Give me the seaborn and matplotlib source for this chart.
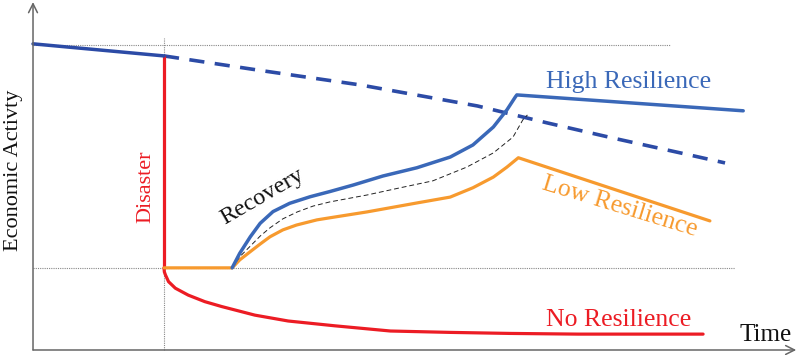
import matplotlib.pyplot as plt
import seaborn as sns

sns.set_style('white')
plt.rcParams['font.family'] = ['Liberation Serif', 'DejaVu Serif']

# time / economic activity values (0-100 scale)
disaster_t = 17.3
pre_level = 85.2
floor_level = 23.8
top_level = 88.4

# pre-disaster path and trend without disaster
pre_t = [0, 17.3]
pre_a = [88.7, 85.2]
trend_t = [17.3, 30.0, 43.2, 58.7, 67.9, 76.6, 85.5, 91.4]
trend_a = [85.2, 81.0, 76.8, 70.7, 65.8, 61.4, 57.1, 54.2]

# no resilience: drop and slow decline
none_t = [17.3, 17.35, 17.5, 17.9, 18.8, 20.5, 22.7, 24.9, 29.3, 33.7, 39.9, 47.2, 55.1, 63.0, 72.0, 88.5]
none_a = [23.8, 22.6, 21.7, 19.8, 17.9, 15.9, 14.0, 12.6, 10.1, 8.4, 7.0, 5.5, 5.1, 4.8, 4.6, 4.6]

# low resilience: delay then recovery
low_t = [17.3, 26.3, 27.3, 28.7, 30.0, 31.3, 33.0, 34.8, 37.5, 39.2, 44.1, 50.7, 55.1, 58.1, 60.8, 62.6, 64.1, 89.4]
low_a = [23.8, 23.8, 26.1, 28.5, 30.7, 32.8, 34.8, 36.2, 37.7, 38.3, 40.0, 42.6, 44.3, 47.0, 50.1, 53.0, 55.7, 37.4]

# high resilience recovery
high_t = [26.3, 27.3, 28.7, 30.0, 31.7, 33.9, 36.6, 39.2, 42.3, 46.2, 50.7, 55.1, 58.1, 60.8, 62.6, 63.7, 63.9, 93.8]
high_a = [23.8, 28.0, 32.8, 36.7, 40.1, 42.5, 44.4, 45.9, 47.8, 50.4, 52.8, 55.9, 59.4, 64.6, 69.6, 73.3, 73.9, 69.3]

# middle recovery path (thin dashed)
mid_t = [26.3, 27.3, 28.7, 30.0, 31.3, 33.0, 34.9, 37.0, 39.2, 44.1, 48.5, 52.8, 57.3, 60.8, 63.4, 64.7, 65.3]
mid_a = [23.8, 27.0, 30.1, 33.0, 35.4, 38.0, 40.0, 41.7, 42.9, 44.9, 47.0, 49.0, 53.0, 57.1, 61.7, 66.7, 68.1]

BLUE = '#3A68B8'
DBLUE = '#2C4BA6'
ORANGE = '#F79A2E'
RED = '#EC1C24'
GRAY = '#666666'

fig = plt.figure(figsize=(8, 3.55), dpi=100)
ax = fig.add_axes([0, 0, 1, 1])
ax.set_xlim(-4.36, 101.3)
ax.set_ylim(-1.45, 101.4)
ax.axis('off')

# reference guides
ax.plot([0, 84.1], [top_level, top_level], color='#888888', lw=0.8, linestyle=(0, (1, 1)))
ax.plot([0, 92.7], [floor_level, floor_level], color='#888888', lw=0.8, linestyle=(0, (1, 1)))
ax.plot([disaster_t, disaster_t], [0, 90.4], color='#888888', lw=0.8, linestyle=(0, (1, 1)))

# axes with arrows
ax.annotate('', xy=(0, 100.8), xytext=(0, 0),
            arrowprops=dict(arrowstyle='->', color=GRAY, lw=1.1, mutation_scale=16, shrinkA=0, shrinkB=0))
ax.annotate('', xy=(100.8, 0), xytext=(0, 0),
            arrowprops=dict(arrowstyle='->', color=GRAY, lw=1.1, mutation_scale=16, shrinkA=0, shrinkB=0))


def draw(t, a, color, lw, ls='-'):
    sns.lineplot(x=t, y=a, ax=ax, color=color, lw=lw, linestyle=ls,
                 sort=False, estimator=None, solid_joinstyle='round')


draw(trend_t, trend_a, DBLUE, 2.6, (0, (4.2, 2.9)))
draw(none_t, none_a, RED, 2.3)
draw([disaster_t, disaster_t], [pre_level, floor_level], RED, 2.3)
draw(low_t, low_a, ORANGE, 2.3)
draw(mid_t, mid_a, '#222222', 0.7, (0, (5, 3)))
draw(high_t, high_a, BLUE, 2.5)
draw(pre_t, pre_a, DBLUE, 2.5)

ax.text(-2.6, 52.0, 'Economic Activty', rotation=90, ha='center', va='center', fontsize=16, color='#111111')
ax.text(14.9, 47.2, 'Disaster', rotation=90, ha='center', va='center', fontsize=16, color=RED)
ax.text(30.3, 44.3, 'Recovery', rotation=30, ha='center', va='center', fontsize=17.5, color='#111111')
ax.text(78.6, 77.7, 'High Resilience', ha='center', va='center', fontsize=18.5, color=BLUE)
ax.text(77.5, 41.5, 'Low Resilience', rotation=-17, ha='center', va='center', fontsize=18.5, color=ORANGE)
ax.text(77.3, 8.7, 'No Resilience', ha='center', va='center', fontsize=18.5, color=RED)
ax.text(96.8, 4.3, 'Time', ha='center', va='center', fontsize=18, color='#111111')

fig.savefig('out.png', dpi=100)
